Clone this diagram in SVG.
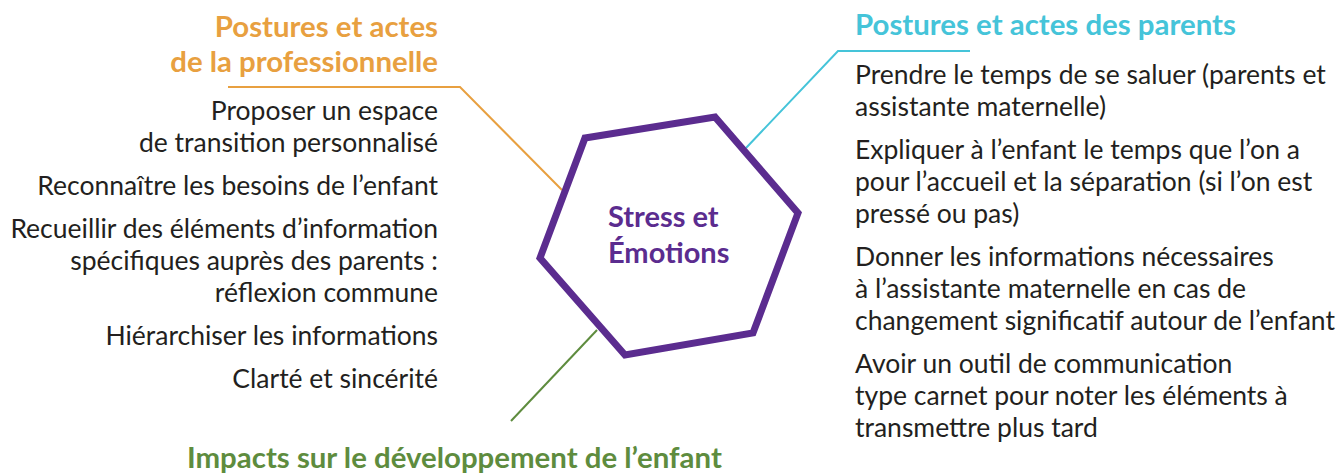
<svg xmlns="http://www.w3.org/2000/svg" width="1343" height="473" viewBox="0 0 1343 473">
<style>
.t{font-family:Lato,"Noto Sans",sans-serif;font-size:26.5px;fill:#231f20}
.h{font-family:Lato,"Noto Sans",sans-serif;font-size:29.4px;font-weight:bold}
.c{font-family:Lato,"Noto Sans",sans-serif;font-size:29px;font-weight:bold;fill:#5b2c8f}
.r{text-anchor:end}
.ln{fill:none;stroke-width:2}
</style>
<rect width="1343" height="473" fill="#fff"/>
<g id="connectors">
<polyline class="ln" stroke="#e8a040" points="228,87 460,87 562,190"/>
<polyline class="ln" stroke="#45c4d9" points="970,51 838,51 746,148"/>
<polyline class="ln" stroke="#5e8c3e" points="597,330 511,421"/>
</g>
<g id="center">
<polygon points="585,138 715,117 798,213 753,333 625,355 540,258" fill="#fff" stroke="#5b2c8f" stroke-width="7" stroke-linejoin="miter"/>
<text class="c" x="608" y="227">Stress et</text>
<text class="c" x="608" y="263">Émotions</text>
</g>
<g id="professionnelle">
<text class="h r" fill="#e8a040" x="438" y="37">Postures et actes</text>
<text class="h r" fill="#e8a040" x="438" y="72">de la professionnelle</text>
<text class="t r" x="438" y="120">Proposer un espace</text>
<text class="t r" x="438" y="152">de transition personnalisé</text>
<text class="t r" x="438" y="195">Reconnaître les besoins de l’enfant</text>
<text class="t r" x="438" y="238">Recueillir des éléments d’information</text>
<text class="t r" x="438" y="270">spécifiques auprès des parents :</text>
<text class="t r" x="438" y="302">réflexion commune</text>
<text class="t r" x="438" y="345">Hiérarchiser les informations</text>
<text class="t r" x="438" y="388">Clarté et sincérité</text>
</g>
<g id="parents">
<text class="h" fill="#45c4d9" x="855" y="35">Postures et actes des parents</text>
<text class="t" x="855" y="84">Prendre le temps de se saluer (parents et</text>
<text class="t" x="855" y="116">assistante maternelle)</text>
<text class="t" x="855" y="159">Expliquer à l’enfant le temps que l’on a</text>
<text class="t" x="855" y="191">pour l’accueil et la séparation (si l’on est</text>
<text class="t" x="855" y="223">pressé ou pas)</text>
<text class="t" x="855" y="266">Donner les informations nécessaires</text>
<text class="t" x="855" y="298">à l’assistante maternelle en cas de</text>
<text class="t" x="855" y="330">changement significatif autour de l’enfant</text>
<text class="t" x="855" y="373">Avoir un outil de communication</text>
<text class="t" x="855" y="405">type carnet pour noter les éléments à</text>
<text class="t" x="855" y="437">transmettre plus tard</text>
</g>
<g id="enfant">
<text class="h" fill="#5e8c3e" x="187" y="468">Impacts sur le développement de l’enfant</text>
</g>
</svg>
